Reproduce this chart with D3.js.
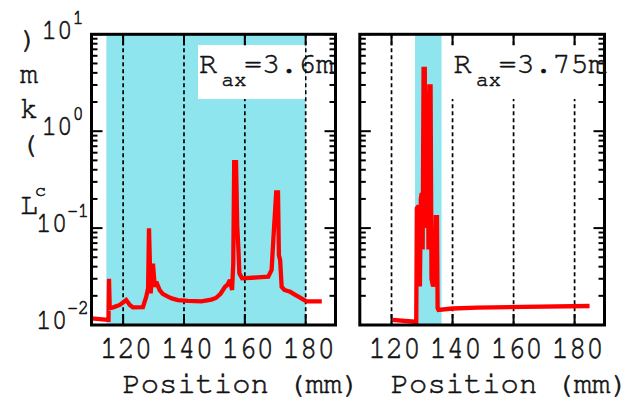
<!DOCTYPE html>
<html>
<head>
<meta charset="utf-8">
<script src="https://cdn.jsdelivr.net/npm/d3@7"></script>
<style>
  body { margin: 0; background: #fff; }
  svg { display: block; }
  text { fill: #111; stroke: #111; stroke-width: 0.55px; }
</style>
</head>
<body>
<script>
// ---- data ----
const xTicks = [120, 140, 160, 180];
const yTicks = [0.01, 0.1, 1, 10];
const yTickExp = ["-2", "-1", "0", "1"];

// R_ax = 3.6 m
const leftPos = [109.6, 115.0, 115.2, 115.35, 115.6, 116.7, 118.9, 121.0, 122.2, 123.2, 126.5, 127.6, 128.2, 128.5, 129.05, 129.8, 130.4, 130.9,
  131.5, 132.0, 133.0, 134.7, 136.0, 138.0, 141.3, 145.7, 149.0, 150.5, 152.0, 153.5, 154.3, 155.1, 155.8, 156.2, 156.5, 157.1, 157.5, 157.9, 158.2, 159.1,
  167.7, 168.8, 169.4, 170.3, 170.9, 171.2, 171.6, 172.1, 173.0, 174.9, 176.0, 177.6, 179.0, 180.3, 185.3];
const leftLc = [0.0117, 0.0113, 0.0113, 0.030, 0.0149, 0.0152, 0.0161, 0.0181, 0.0161, 0.0152, 0.0153, 0.0196, 0.0239, 0.0995, 0.0212, 0.043, 0.0248, 0.028,
  0.025, 0.0229, 0.021, 0.0196, 0.0188, 0.0181, 0.0177, 0.0175, 0.0183, 0.019, 0.021, 0.0248, 0.026, 0.0291, 0.023, 0.043, 0.48, 0.48, 0.107, 0.059, 0.0341, 0.0303,
  0.0315, 0.037, 0.079, 0.233, 0.233, 0.0525, 0.047, 0.0248, 0.023, 0.022, 0.021, 0.0196, 0.0185, 0.0175, 0.0175];

// R_ax = 3.75 m
const rightPos = [120.3, 127.7, 128.1, 128.3, 128.9, 129.3, 129.6, 129.9, 130.2, 130.5, 130.9, 131.2, 131.5, 131.9, 132.1, 132.4, 132.8,
  133.1, 133.6, 134.2, 134.5, 134.9, 135.1, 135.4, 140.0, 148.0, 163.0, 184.9];
const rightLc = [0.0113, 0.0108, 0.0108, 0.16, 0.17, 0.025, 0.2, 0.23, 0.06, 4.4, 4.4, 0.1, 2.45, 2.45, 0.06, 2.9, 2.9,
  0.03, 0.025, 0.03, 0.13, 0.13, 0.015, 0.0143, 0.0148, 0.0151, 0.0154, 0.0157];

const leftBand = [114.5, 180.0];
const rightBand = [127.7, 136.4];
const panelRax = ["3.6m", "3.75m"];

// ---- layout ----
const W = 621, H = 397;
const yTop = 34.3, yBot = 325;
const mono = "'Nimbus Mono PS', 'Nimbus Mono L', FreeMono, Courier, 'Courier New', 'Liberation Mono', monospace";
const cyan = "#8EE5EE";

const svg = d3.select("body").append("svg").attr("width", W).attr("height", H);

const y = d3.scaleLog().domain([0.01, 10]).range([yBot, yTop]);

const minor = [];
[0.01, 0.1, 1].forEach(d => { for (let m = 2; m <= 9; m++) minor.push(d * m); });

const panels = [
  { x0: 91.5, x1: 335.5, pos: leftPos, val: leftLc, band: leftBand, rax: panelRax[0], boxX: [198, 305], textX: 199 },
  { x0: 359.8, x1: 604.5, pos: rightPos, val: rightLc, band: rightBand, rax: panelRax[1], boxX: [450, 604], textX: 453.5 }
];

panels.forEach((p, i) => {
  const x = d3.scaleLinear().domain([109.6, 189.8]).range([p.x0, p.x1]);
  const g = svg.append("g");

  g.append("clipPath").attr("id", "clip" + i)
    .append("rect").attr("x", p.x0).attr("y", yTop).attr("width", p.x1 - p.x0).attr("height", yBot - yTop);

  // shaded band
  g.append("rect")
    .attr("x", x(p.band[0])).attr("y", yTop)
    .attr("width", x(p.band[1]) - x(p.band[0])).attr("height", yBot - yTop)
    .attr("fill", cyan);

  // dashed grid
  g.selectAll(".grid").data(xTicks).enter().append("line")
    .attr("x1", d => x(d)).attr("x2", d => x(d))
    .attr("y1", yTop).attr("y2", yBot)
    .attr("stroke", "#000").attr("stroke-width", 1.7).attr("stroke-dasharray", "4,3");

  // label box
  g.append("rect")
    .attr("x", p.boxX[0]).attr("y", 45)
    .attr("width", p.boxX[1] - p.boxX[0]).attr("height", 54)
    .attr("fill", "#fff");

  // curve
  const pts = p.pos.map((d, k) => [d, p.val[k]]);
  g.append("path").datum(pts)
    .attr("clip-path", "url(#clip" + i + ")")
    .attr("d", d3.line().x(d => x(d[0])).y(d => y(d[1])))
    .attr("fill", "none").attr("stroke", "#ff0000").attr("stroke-width", 4.3)
    .attr("stroke-linejoin", "miter").attr("stroke-miterlimit", 2);

  // ticks
  const tk = g.append("g").attr("stroke", "#000").attr("stroke-width", 2);
  yTicks.forEach(v => {
    tk.append("line").attr("x1", p.x0).attr("x2", p.x0 + 11).attr("y1", y(v)).attr("y2", y(v));
    tk.append("line").attr("x1", p.x1).attr("x2", p.x1 - 11).attr("y1", y(v)).attr("y2", y(v));
  });
  minor.forEach(v => {
    tk.append("line").attr("x1", p.x0).attr("x2", p.x0 + 6).attr("y1", y(v)).attr("y2", y(v));
    tk.append("line").attr("x1", p.x1).attr("x2", p.x1 - 6).attr("y1", y(v)).attr("y2", y(v));
  });
  xTicks.forEach(v => {
    tk.append("line").attr("x1", x(v)).attr("x2", x(v)).attr("y1", yTop).attr("y2", yTop + 11);
    tk.append("line").attr("x1", x(v)).attr("x2", x(v)).attr("y1", yBot).attr("y2", yBot - 11);
  });

  // frame
  g.append("rect")
    .attr("x", p.x0).attr("y", yTop).attr("width", p.x1 - p.x0).attr("height", yBot - yTop)
    .attr("fill", "none").attr("stroke", "#000").attr("stroke-width", 3);

  // x tick labels
  g.selectAll(".xl").data(xTicks).enter().append("text")
    .attr("transform", d => `translate(${x(d) + 3},358.3) scale(1,1.1)`)
    .attr("text-anchor", "middle")
    .attr("font-family", mono).attr("font-size", 29)
    .text(d => d);

  // x axis title
  g.append("text")
    .attr("x", p.x0 + 31).attr("y", 392.7)
    .attr("font-family", mono).attr("font-size", 30.5)
    .text("Position (mm)");

  // R_ax label
  const t = g.append("text").attr("font-family", mono).attr("y", 72.7);
  t.append("tspan").attr("x", p.textX).attr("font-size", 30).text("R");
  t.append("tspan").attr("x", p.textX + 22.5).attr("y", 86).attr("font-size", 21).text("ax");
  t.append("tspan").attr("x", p.textX + 45).attr("y", 72.7).attr("font-size", 30).text("=" + p.rax);
});

// y tick labels (left panel only)
yTicks.forEach((v, k) => {
  const t = svg.append("text")
    .attr("transform", `translate(62.5,${y(v) + 4.2}) scale(1,1.15)`)
    .attr("text-anchor", "middle")
    .attr("font-family", mono);
  t.append("tspan").attr("font-size", 26).text("10");
  t.append("tspan").attr("font-size", 18).attr("dy", -13).text(yTickExp[k]);
});

// y axis title, characters stacked upright
const ylab = [
  { c: ")", x: 29, y: 48, s: 30 },
  { c: "m", x: 29, y: 83, s: 30 },
  { c: "k", x: 29, y: 118, s: 30 },
  { c: "(", x: 29, y: 153, s: 30 },
  { c: "c", x: 40.5, y: 196, s: 19 },
  { c: "L", x: 29, y: 214, s: 30 }
];
svg.selectAll(".yl").data(ylab).enter().append("text")
  .attr("x", d => d.x).attr("y", d => d.y)
  .attr("text-anchor", "middle")
  .attr("font-family", mono).attr("font-size", d => d.s)
  .text(d => d.c);
</script>
</body>
</html>
